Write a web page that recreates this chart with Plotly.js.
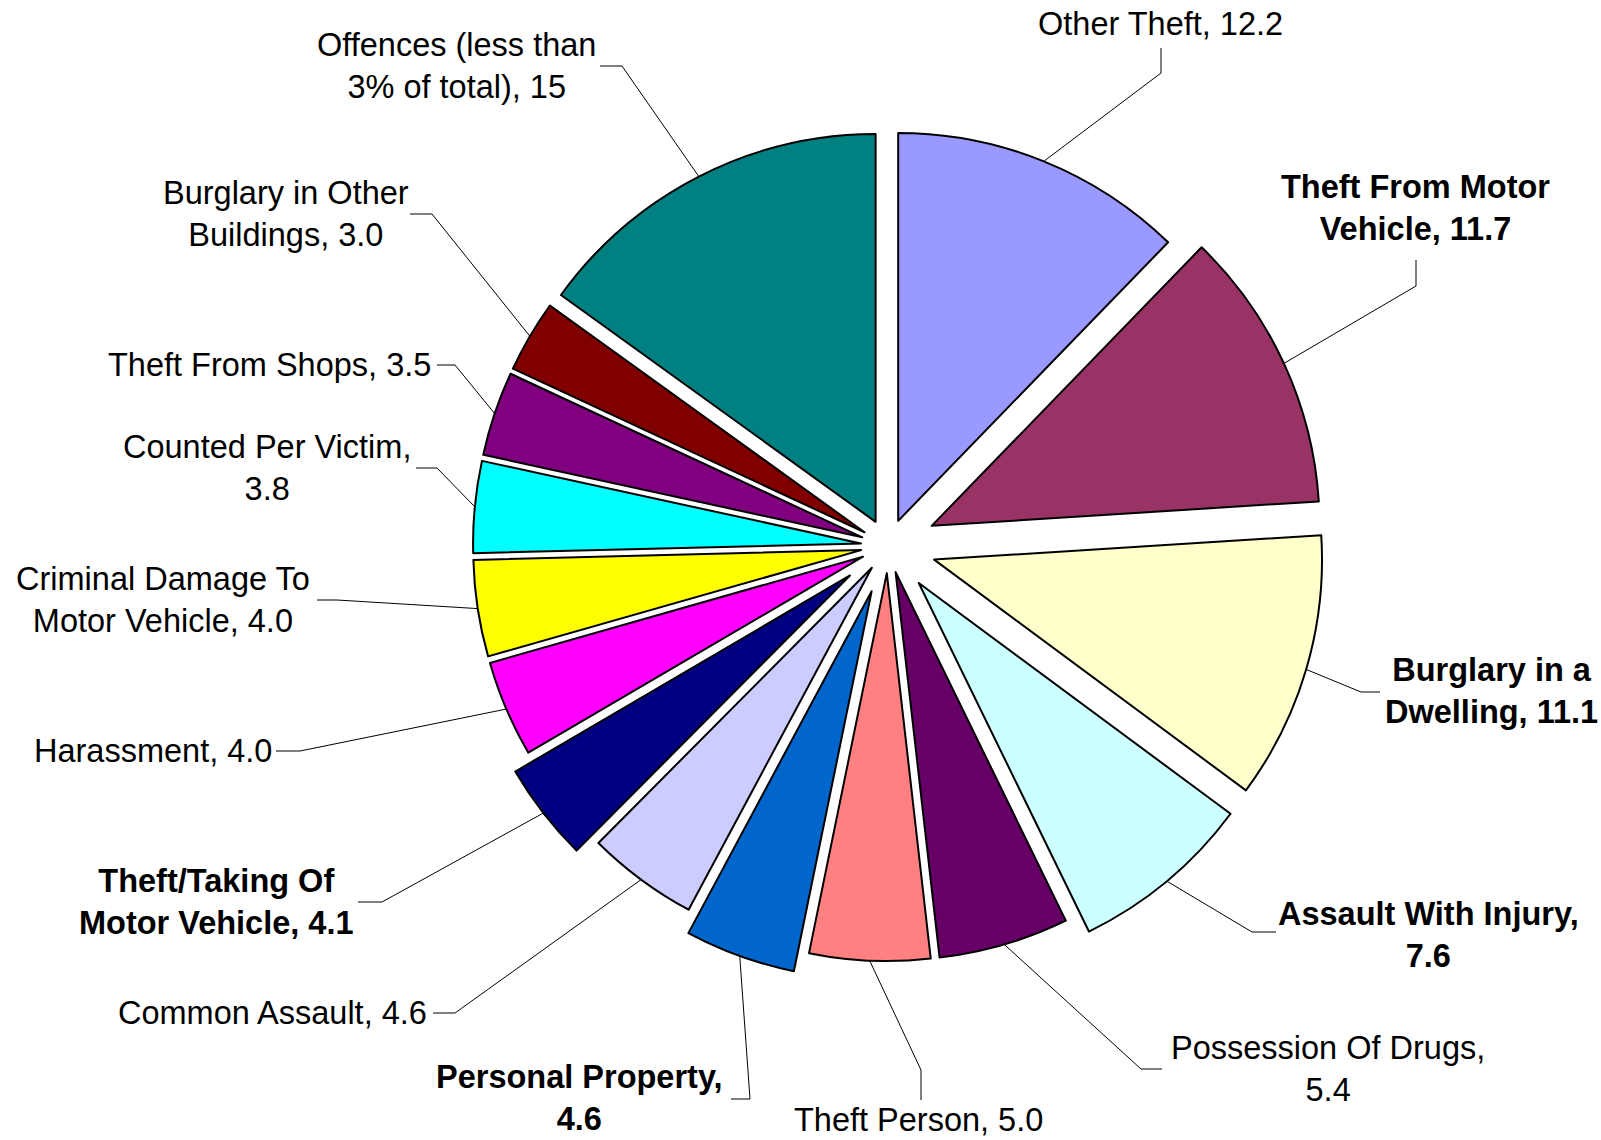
<!DOCTYPE html>
<html>
<head>
<meta charset="utf-8">
<script src="https://cdn.plot.ly/plotly-3.0.1.min.js"></script>
<style>
html,body{margin:0;padding:0;background:#ffffff;}
#chart{width:1601px;height:1140px;}
</style>
</head>
<body>
<div id="chart"></div>
<script>
// ---- data ----
const categories = [
  "Other Theft", "Theft From Motor Vehicle", "Burglary in a Dwelling", "Assault With Injury",
  "Possession Of Drugs", "Theft Person", "Personal Property", "Common Assault",
  "Theft/Taking Of Motor Vehicle", "Harassment", "Criminal Damage To Motor Vehicle",
  "Counted Per Victim", "Theft From Shops", "Burglary in Other Buildings",
  "Offences (less than 3% of total)"
];
const values = [12.2, 11.7, 11.1, 7.6, 5.4, 5.0, 4.6, 4.6, 4.1, 4.0, 4.0, 3.8, 3.5, 3.0, 15];
const labelTexts = [
  "Other Theft, 12.2",
  "Theft From Motor<br>Vehicle, 11.7",
  "Burglary in a<br>Dwelling, 11.1",
  "Assault With Injury,<br>7.6",
  "Possession Of Drugs,<br>5.4",
  "Theft Person, 5.0",
  "Personal Property,<br>4.6",
  "Common Assault, 4.6",
  "Theft/Taking Of<br>Motor Vehicle, 4.1",
  "Harassment, 4.0",
  "Criminal Damage To<br>Motor Vehicle, 4.0",
  "Counted Per Victim,<br>3.8",
  "Theft From Shops, 3.5",
  "Burglary in Other<br>Buildings, 3.0",
  "Offences (less than<br>3% of total), 15"
];
const emphasised = [false, true, true, true, false, false, true, false, true, false, false, false, false, false, false];

// ---- styles ----
const colors = ["#9999FF", "#993366", "#FFFFCC", "#CCFFFF", "#660066", "#FF8080", "#0066CC", "#CCCCFF",
                "#000080", "#FF00FF", "#FFFF00", "#00FFFF", "#800080", "#800000", "#008080"];
const pullNormal = 0.07, pullStrong = 0.124;
const pulls = emphasised.map(e => e ? pullStrong : pullNormal);

// ---- layout (pixel positions of labels and leader bends) ----
const W = 1601, H = 1140;
const domX = [0.2823, 0.8270], domY = [0.1386, 0.9035];
const labelPos = [
  [1160, 24, "center"], [1415, 208, "center"], [1491, 691, "center"], [1428, 935, "center"],
  [1328, 1069, "center"], [919, 1120, "center"], [579, 1098, "center"], [429, 1013, "right"],
  [217, 902, "center"], [274, 751, "right"], [163, 600, "center"], [267, 468, "center"],
  [433, 365, "right"], [286, 214, "center"], [456, 66, "center"]
];
const leaderBend = [
  [[1161, 73], [1161, 48]], [[1416, 286], [1416, 260]], [[1361, 692], [1380, 692]],
  [[1252, 932], [1276, 932]], [[1141, 1069], [1162, 1069]], [[921, 1070], [921, 1100]],
  [[750, 1099], [731, 1099]], [[455, 1013], [433, 1013]], [[382, 902], [358, 902]],
  [[300, 751], [276, 751]], [[337, 600], [317, 600]], [[437, 468], [416, 468]],
  [[455, 365], [437, 365]], [[432, 214], [410, 214]], [[622, 66], [600, 66]]
];

// pie geometry (same rule Plotly uses to size the pie in its domain)
const boxW = (domX[1] - domX[0]) * W, boxH = (domY[1] - domY[0]) * H;
const maxPull = Math.max(...pulls);
const R = Math.min(boxW, boxH) / (2 + 2 * maxPull);
const cx = W * (domX[0] + domX[1]) / 2;
const cy = H * (1 - (domY[0] + domY[1]) / 2);
const total = values.reduce((a, b) => a + b, 0);

const px = x => x / W, py = y => 1 - y / H;
const shapes = [], annotations = [];
let cum = 0;
values.forEach((v, i) => {
  const mid = (cum + v / 2) / total * 2 * Math.PI;
  cum += v;
  const d = R * (1 + pulls[i]);
  const ax = cx + d * Math.sin(mid), ay = cy - d * Math.cos(mid);
  const b = leaderBend[i];
  shapes.push({
    type: "path", xref: "paper", yref: "paper",
    path: `M ${px(ax)} ${py(ay)} L ${px(b[0][0])} ${py(b[0][1])} L ${px(b[1][0])} ${py(b[1][1])}`,
    line: {color: "#000000", width: 1}
  });
  const lp = labelPos[i];
  annotations.push({
    xref: "paper", yref: "paper", x: px(lp[0]), y: py(lp[1]),
    xanchor: lp[2], yanchor: "middle", align: "center", showarrow: false,
    text: emphasised[i] ? "<b>" + labelTexts[i] + "</b>" : labelTexts[i],
    font: {family: "Liberation Sans, Arial, sans-serif", size: 32.5, color: "#000000"}
  });
});

const trace = {
  type: "pie",
  labels: categories,
  values: values,
  sort: false,
  direction: "clockwise",
  rotation: 0,
  pull: pulls,
  textinfo: "none",
  hoverinfo: "label+value",
  marker: {colors: colors, line: {color: "#000000", width: 2}},
  domain: {x: domX, y: domY}
};

const layout = {
  width: W, height: H,
  margin: {l: 0, r: 0, t: 0, b: 0},
  paper_bgcolor: "#ffffff",
  plot_bgcolor: "#ffffff",
  showlegend: false,
  shapes: shapes,
  annotations: annotations
};

Plotly.newPlot("chart", [trace], layout, {staticPlot: true, displayModeBar: false});
</script>
</body>
</html>
